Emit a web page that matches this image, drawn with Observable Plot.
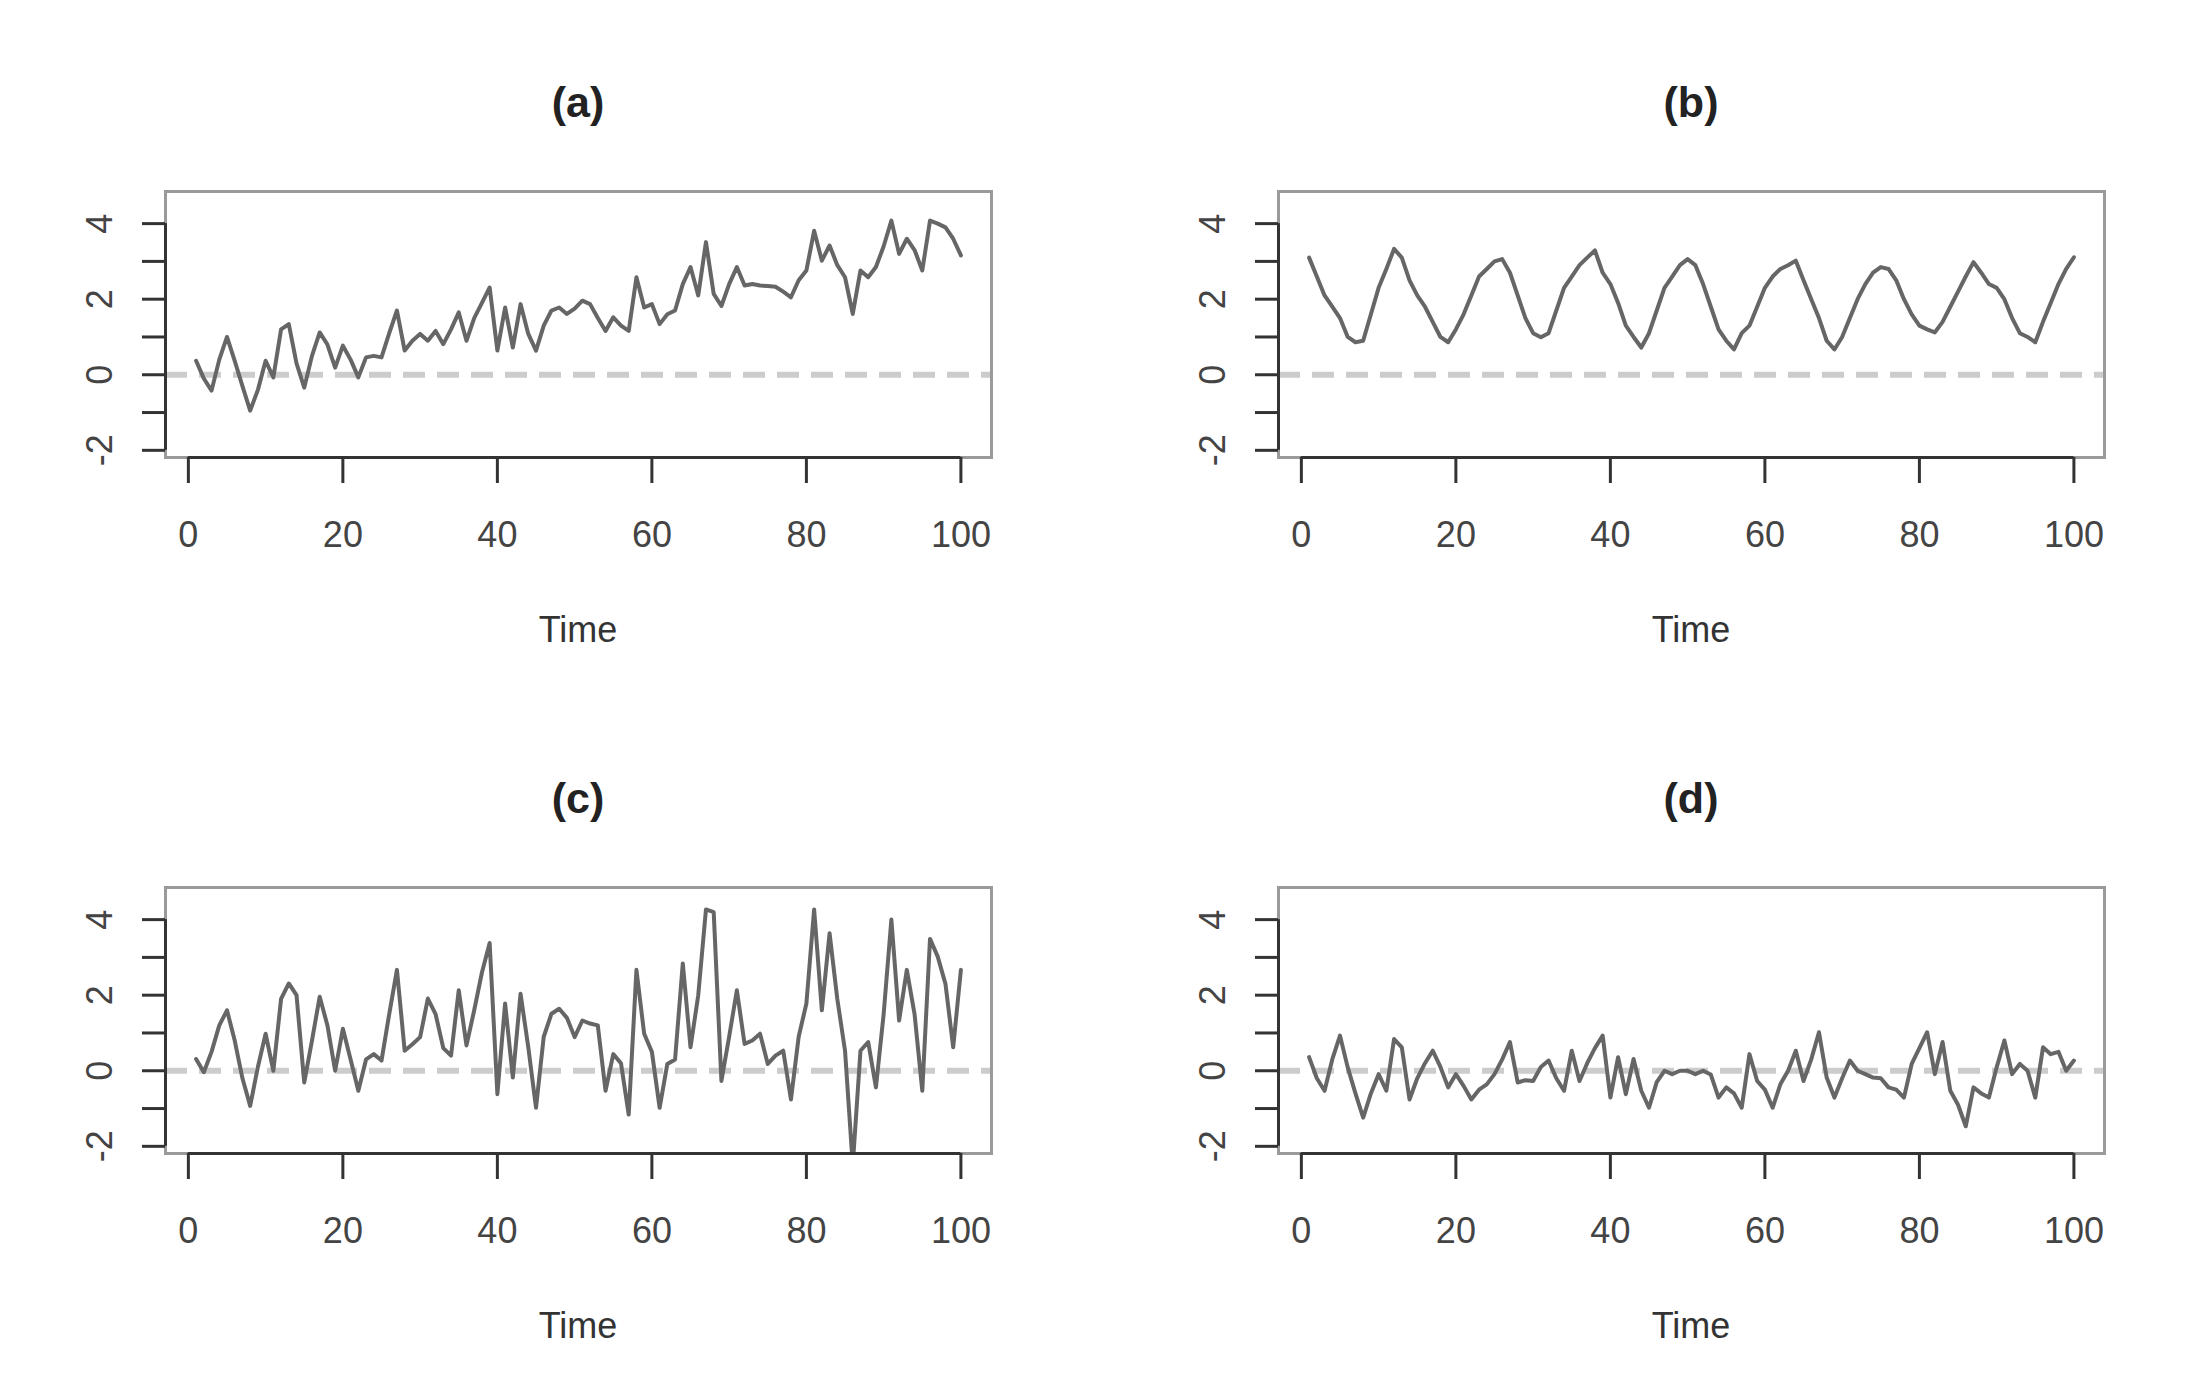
<!DOCTYPE html>
<html><head><meta charset="utf-8">
<script src="https://cdn.jsdelivr.net/npm/d3@7"></script>
<script src="https://cdn.jsdelivr.net/npm/@observablehq/plot@0.6"></script>
<style>
body{margin:0;background:#fff;overflow:hidden;}
#root{position:relative;width:2190px;height:1398px;overflow:hidden;font-family:"Liberation Sans",Arial,sans-serif;background:#fff;}
.title{position:absolute;text-align:center;font-weight:bold;font-size:43px;line-height:50px;color:#222;}
.xlab{position:absolute;text-align:center;font-size:36px;line-height:40px;color:#333;}
.panel{position:absolute;width:1095px;height:560px;}
.panel svg{max-width:none !important;width:1095px !important;height:560px !important;}
</style></head><body><div id="root"></div>
<script>
const time = d3.range(1, 101);

const seriesA = [
  0.37, -0.1, -0.42, 0.4, 1.0, 0.37, -0.3, -0.95, -0.4, 0.37,
  -0.07, 1.2, 1.34, 0.3, -0.34, 0.5, 1.12, 0.8, 0.19, 0.77,
  0.4, -0.07, 0.46, 0.5, 0.46, 1.1, 1.7, 0.64, 0.9, 1.08,
  0.9, 1.16, 0.81, 1.2, 1.65, 0.9, 1.5, 1.9, 2.31, 0.64,
  1.78, 0.72, 1.87, 1.08, 0.64, 1.3, 1.7, 1.78, 1.61, 1.75,
  1.96, 1.87, 1.5, 1.16, 1.52, 1.3, 1.16, 2.58, 1.78, 1.87,
  1.34, 1.6, 1.7, 2.4, 2.85, 2.1, 3.51, 2.14, 1.82, 2.4,
  2.85, 2.36, 2.4, 2.36, 2.35, 2.33, 2.2, 2.05, 2.5, 2.76,
  3.81, 3.02, 3.42, 2.9, 2.58, 1.61, 2.76, 2.58, 2.85, 3.4,
  4.08, 3.2, 3.6, 3.3, 2.76, 4.08, 4.0, 3.9, 3.6, 3.16
];

const seriesB = [
  3.1, 2.6, 2.1, 1.8, 1.5, 1.0, 0.86, 0.9, 1.6, 2.3,
  2.8, 3.33, 3.1, 2.5, 2.1, 1.8, 1.4, 1.0, 0.86, 1.2,
  1.6, 2.1, 2.6, 2.8, 3.0, 3.06, 2.7, 2.1, 1.5, 1.1,
  0.99, 1.1, 1.7, 2.3, 2.6, 2.9, 3.1, 3.29, 2.7, 2.4,
  1.9, 1.3, 1.0, 0.72, 1.1, 1.7, 2.3, 2.6, 2.9, 3.06,
  2.9, 2.4, 1.8, 1.2, 0.9, 0.67, 1.1, 1.3, 1.8, 2.3,
  2.6, 2.8, 2.9, 3.02, 2.5, 2.0, 1.5, 0.9, 0.67, 1.0,
  1.5, 2.0, 2.4, 2.7, 2.85, 2.8, 2.5, 2.0, 1.6, 1.3,
  1.2, 1.12, 1.4, 1.8, 2.2, 2.6, 2.98, 2.7, 2.4, 2.3,
  2.0, 1.5, 1.1, 1.0, 0.86, 1.4, 1.9, 2.4, 2.8, 3.11
];

const seriesC = [
  0.31, -0.04, 0.5, 1.2, 1.6, 0.8, -0.2, -0.93, 0.1, 0.98,
  0.0, 1.9, 2.31, 2.0, -0.31, 0.8, 1.96, 1.2, 0.0, 1.11,
  0.3, -0.53, 0.3, 0.44, 0.27, 1.5, 2.67, 0.53, 0.7, 0.89,
  1.91, 1.5, 0.6, 0.4, 2.13, 0.67, 1.6, 2.6, 3.38, -0.62,
  1.78, -0.18, 2.04, 0.62, -0.98, 0.9, 1.51, 1.64, 1.4, 0.89,
  1.33, 1.25, 1.2, -0.53, 0.44, 0.2, -1.16, 2.67, 0.98, 0.5,
  -0.98, 0.18, 0.3, 2.84, 0.62, 2.0, 4.27, 4.2, -0.27, 0.9,
  2.13, 0.71, 0.8, 0.98, 0.18, 0.4, 0.53, -0.76, 0.9, 1.78,
  4.27, 1.6, 3.64, 1.9, 0.53, -2.5, 0.53, 0.76, -0.44, 1.5,
  4.0, 1.33, 2.67, 1.5, -0.53, 3.49, 3.02, 2.3, 0.62, 2.67
];

const seriesD = [
  0.36, -0.2, -0.53, 0.3, 0.93, 0.09, -0.6, -1.24, -0.6, -0.09,
  -0.53, 0.84, 0.62, -0.76, -0.2, 0.2, 0.53, 0.1, -0.44, -0.09,
  -0.4, -0.76, -0.5, -0.36, -0.09, 0.3, 0.76, -0.31, -0.25, -0.27,
  0.1, 0.27, -0.2, -0.53, 0.53, -0.27, 0.2, 0.6, 0.93, -0.71,
  0.36, -0.62, 0.31, -0.53, -0.98, -0.3, 0.0, -0.09, 0.0, 0.0,
  -0.09, 0.0, -0.1, -0.71, -0.44, -0.6, -0.98, 0.44, -0.27, -0.5,
  -0.98, -0.36, 0.0, 0.53, -0.27, 0.3, 1.02, -0.18, -0.71, -0.2,
  0.27, 0.0, -0.09, -0.18, -0.2, -0.44, -0.5, -0.71, 0.18, 0.6,
  1.02, -0.09, 0.76, -0.53, -0.9, -1.47, -0.44, -0.6, -0.71, 0.09,
  0.8, -0.09, 0.18, 0.0, -0.71, 0.62, 0.44, 0.5, 0.0, 0.27
];

const panelTitles = ["(a)", "(b)", "(c)", "(d)"];
const xTicks = [0, 20, 40, 60, 80, 100];
const yTicks = [-2, -1, 0, 1, 2, 3, 4];
const yLabels = [-2, 0, 2, 4];
const xLabel = "Time";

const allSeries = [seriesA, seriesB, seriesC, seriesD];
const W = 1095, H = 560, ML = 165, MR = 104, MT = 91, MB = 203;
const SVG_TOP = 100;
const offsets = [[0, 0], [1113, 0], [0, 696], [1113, 696]];
const xDomain = [-2.96, 103.96];
const yDomain = [-2.19, 4.85];

const root = document.getElementById("root");

allSeries.forEach((series, i) => {
  const [ox, oy] = offsets[i];
  const data = time.map((t, j) => ({t, v: series[j]}));

  const plot = Plot.plot({
    width: W, height: H,
    marginLeft: ML, marginRight: MR, marginTop: MT, marginBottom: MB,
    style: {fontFamily: "Liberation Sans, Arial, sans-serif", fontSize: "36px", background: "transparent", color: "#333", maxWidth: "none"},
    x: {domain: xDomain},
    y: {domain: yDomain},
    marks: [
      Plot.ruleY([0], {stroke: "#cccccc", strokeWidth: 6, strokeDasharray: "22,12"}),
      Plot.line(data, {x: "t", y: "v", stroke: "#666", strokeWidth: 4, clip: true}),
      Plot.frame({stroke: "#9a9a9a", strokeWidth: 3}),
      Plot.ruleY([yDomain[0]], {x1: xTicks[0], x2: xTicks[xTicks.length - 1], stroke: "#333", strokeWidth: 3}),
      Plot.ruleX([xDomain[0]], {y1: yTicks[0], y2: yTicks[yTicks.length - 1], stroke: "#333", strokeWidth: 3}),
      Plot.axisX(xTicks, {tickSize: 26, tickPadding: 38, stroke: "#333", strokeWidth: 3, fill: "#444", label: null, tickFormat: d => String(d)}),
      Plot.axisY(yTicks, {tickSize: 23, stroke: "#333", strokeWidth: 3, label: null, tickFormat: () => ""}),
      Plot.text(yLabels, {y: d => d, text: d => String(d), frameAnchor: "left", dx: -65, rotate: -90, textAnchor: "middle", fill: "#444", fontSize: 36})
    ]
  });

  const wrap = document.createElement("div");
  wrap.className = "panel";
  wrap.style.left = ox + "px";
  wrap.style.top = (oy + SVG_TOP) + "px";
  wrap.appendChild(plot);
  root.appendChild(wrap);

  const title = document.createElement("div");
  title.className = "title";
  title.textContent = panelTitles[i];
  title.style.left = (ox + ML) + "px";
  title.style.width = (W - ML - MR) + "px";
  title.style.top = (oy + 77) + "px";
  root.appendChild(title);

  const xl = document.createElement("div");
  xl.className = "xlab";
  xl.textContent = xLabel;
  xl.style.left = (ox + ML) + "px";
  xl.style.width = (W - ML - MR) + "px";
  xl.style.top = (oy + 610) + "px";
  root.appendChild(xl);
});
</script></body></html>
